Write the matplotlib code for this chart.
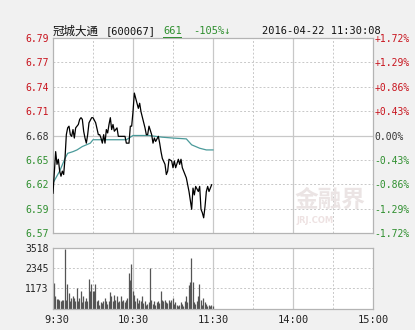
import matplotlib
matplotlib.use("Agg")
import matplotlib.pyplot as plt
from matplotlib.transforms import ScaledTranslation
from matplotlib.lines import Line2D

# price trace, minutes after 9:30
minutes = [0, 2, 3, 4, 5, 6, 7, 8, 9, 10, 11, 12, 13, 14, 15, 16, 17, 19, 20, 21,
           22, 23, 24, 25, 26, 27, 29, 30, 32, 34, 35, 36, 37, 38, 39, 40, 41, 42, 43,
           44, 45, 46, 48, 49, 54, 55, 57, 58, 59, 60, 61, 62, 64, 65, 66, 69, 70, 71,
           72, 74, 75, 76, 77, 79, 80, 81, 82, 84, 85, 86, 87, 89, 90, 91, 92, 94, 95,
           96, 97, 99, 100, 101, 102, 104, 105, 106, 107, 109, 110, 111, 112, 113, 114,
           115, 116, 117, 119]
prices = [6.612, 6.661, 6.646, 6.652, 6.638, 6.632, 6.638, 6.634, 6.653, 6.681,
          6.689, 6.691, 6.681, 6.679, 6.687, 6.677, 6.689, 6.693, 6.699, 6.701,
          6.699, 6.685, 6.677, 6.671, 6.681, 6.695, 6.701, 6.701, 6.695, 6.681,
          6.681, 6.677, 6.671, 6.681, 6.671, 6.687, 6.683, 6.693, 6.701, 6.687,
          6.693, 6.685, 6.689, 6.679, 6.679, 6.671, 6.671, 6.691, 6.691, 6.708,
          6.730, 6.724, 6.712, 6.718, 6.708, 6.689, 6.681, 6.681, 6.691, 6.681,
          6.671, 6.677, 6.673, 6.679, 6.671, 6.661, 6.653, 6.646, 6.634, 6.638,
          6.652, 6.650, 6.642, 6.650, 6.642, 6.652, 6.646, 6.652, 6.642, 6.634,
          6.630, 6.622, 6.614, 6.593, 6.618, 6.610, 6.620, 6.614, 6.620, 6.593,
          6.589, 6.583, 6.596, 6.614, 6.620, 6.614, 6.622, 6.612]
prices = prices[:len(minutes)]

avg_minutes = [0, 5, 9, 11, 15, 18, 22, 28, 30, 40, 55, 60, 72, 82, 90, 100, 104, 110, 115, 120]
avg_prices = [6.624, 6.638, 6.653, 6.659, 6.661, 6.663, 6.667, 6.671, 6.675, 6.675,
              6.675, 6.680, 6.680, 6.678, 6.677, 6.676, 6.669, 6.665, 6.663, 6.663]

volumes = [1513, 719, 567, 567, 529, 473, 492, 492, 3423, 529, 1437, 908, 435, 624, 719,
           624, 435, 1210, 435, 624, 1002, 378, 719, 435, 624, 435, 1721, 1040, 1437, 1002,
           1002, 1437, 435, 529, 246, 378, 340, 435, 624, 435, 303, 435, 946, 719, 473,
           813, 529, 756, 378, 435, 719, 435, 529, 378, 529, 624, 2042, 1664, 2572, 1002,
           813, 435, 624, 340, 529, 435, 719, 340, 435, 246, 303, 378, 2345, 529, 303,
           435, 246, 378, 435, 340, 1002, 529, 435, 492, 378, 340, 529, 378, 492, 624,
           303, 378, 246, 189, 246, 378, 303, 151, 435, 719, 378, 1380, 1570, 2893, 1570,
           378, 303, 435, 719, 1437, 529, 246, 624, 378, 303, 189, 246, 151, 246, 200]

prev_close = 6.68
pct_ticks = [-1.72, -1.29, -0.86, -0.43, 0.0, 0.43, 0.86, 1.29, 1.72]
pct_labels = ["-1.72%", "-1.29%", "-0.86%", "-0.43%", "0.00%", "+0.43%", "+0.86%", "+1.29%", "+1.72%"]
price_labels = ["6.57", "6.59", "6.62", "6.65", "6.68", "6.71", "6.74", "6.77", "6.79"]
vol_ticks = [1173, 2345, 3518]
time_ticks = [0, 60, 120, 180, 240]
time_labels = ["9:30", "10:30", "11:30", "14:00", "15:00"]

red = "#c8141e"
green = "#2f8f2f"
mono = ["DejaVu Sans Mono", "DejaVu Sans"]

fig = plt.figure(figsize=(4.15, 3.3), dpi=100, facecolor="#f1f1f1")
W, H = 415, 330

def box(x0, y0, x1, y1):
    return [x0 / W, 1 - y1 / H, (x1 - x0) / W, (y1 - y0) / H]

ax = fig.add_axes(box(53, 38, 373, 233))
axv = fig.add_axes(box(53, 247.5, 373, 309))

lo = prev_close * (1 + pct_ticks[0] / 100)
hi = prev_close * (1 + pct_ticks[-1] / 100)
tick_prices = [prev_close * (1 + p / 100) for p in pct_ticks]

for a in (ax, axv):
    a.set_facecolor("white")
    a.set_xlim(0, 240)
    for s in a.spines.values():
        s.set_color("#b4b4b4")
        s.set_linewidth(0.9)
    for t in range(30, 240, 30):
        if t % 60 == 0:
            a.axvline(t, color="#c8c8c8", lw=0.9, zorder=0)
        else:
            a.axvline(t, color="#c8c8c8", lw=0.7, ls=(0, (2, 2)), zorder=0)

ax.set_ylim(lo, hi)
for p, tp in zip(pct_ticks[1:-1], tick_prices[1:-1]):
    if p == 0:
        ax.axhline(tp, color="#c8c8c8", lw=0.9, zorder=0)
    else:
        ax.axhline(tp, color="#c8c8c8", lw=0.7, ls=(0, (2, 2)), zorder=0)

ax.plot(avg_minutes, avg_prices, color="#4a9a9a", lw=0.9, zorder=2)
ax.plot(minutes, prices, color="black", lw=0.9, zorder=3)

ax.set_xticks([])
ax.set_yticks(tick_prices)
ax.set_yticklabels(price_labels, fontsize=7, family=mono)
ax.tick_params(axis="y", length=0, pad=3)
for lbl, p in zip(ax.get_yticklabels(), pct_ticks):
    lbl.set_color(red if p > 0 else (green if p < 0 else "#333333"))

ax2 = ax.twinx()
ax2.set_ylim(pct_ticks[0], pct_ticks[-1])
ax2.set_yticks(pct_ticks)
ax2.set_yticklabels(pct_labels, fontsize=7, family=mono)
ax2.tick_params(axis="y", length=0, pad=1)
for s in ax2.spines.values():
    s.set_visible(False)
for lbl, p in zip(ax2.get_yticklabels(), pct_ticks):
    lbl.set_color(red if p > 0 else (green if p < 0 else "#333333"))

# watermark
ax.text(0.865, 0.17, "金融界", transform=ax.transAxes, fontsize=17, fontweight="bold",
        family=["Noto Sans CJK SC"], color="#ebe4e4", ha="center", va="center", zorder=1)
ax.text(0.82, 0.065, "JRJ.COM", transform=ax.transAxes, fontsize=6, fontweight="bold",
        color="#eee2e2", ha="center", va="center", zorder=1)

# volume
axv.vlines([m + 0.8 for m in range(len(volumes))], 0, volumes, color="#555555", lw=0.9)
axv.set_ylim(0, vol_ticks[-1])
for v in vol_ticks[:-1]:
    axv.axhline(v, color="#c8c8c8", lw=0.7, ls=(0, (2, 2)), zorder=0)
axv.set_yticks(vol_ticks)
axv.set_yticklabels([str(v) for v in vol_ticks], fontsize=7, family=mono, color="#222222")
axv.tick_params(axis="y", length=0, pad=3)
axv.set_xticks(time_ticks)
axv.set_xticklabels(time_labels, fontsize=7.5, family=mono, color="#222222")
axv.tick_params(axis="x", length=0, pad=4)
first = axv.get_xticklabels()[0]
first.set_transform(first.get_transform() + ScaledTranslation(4 / 100, 0, fig.dpi_scale_trans))

# header line
ty = 1 - 31 / H
fig.text(53 / W, ty, "冠城大通", fontsize=8.3, family=["Noto Sans CJK SC"], va="center", color="#111111")
fig.text(106 / W, ty, "[600067]", fontsize=7.5, family=mono, va="center", color="#111111")
fig.text(163 / W, ty, "661", fontsize=7.5, family=mono, va="center", color=green)
fig.add_artist(Line2D([163 / W, 181 / W], [1 - 37 / H, 1 - 37 / H], color=green, lw=0.7))
fig.text(193 / W, ty, "-105%↓", fontsize=7.5, family=mono, va="center", color=green)
fig.text(262 / W, ty, "2016-04-22 11:30:08", fontsize=7.5, family=mono, va="center", color="#111111")

fig.savefig("out.png", dpi=100, facecolor=fig.get_facecolor())
